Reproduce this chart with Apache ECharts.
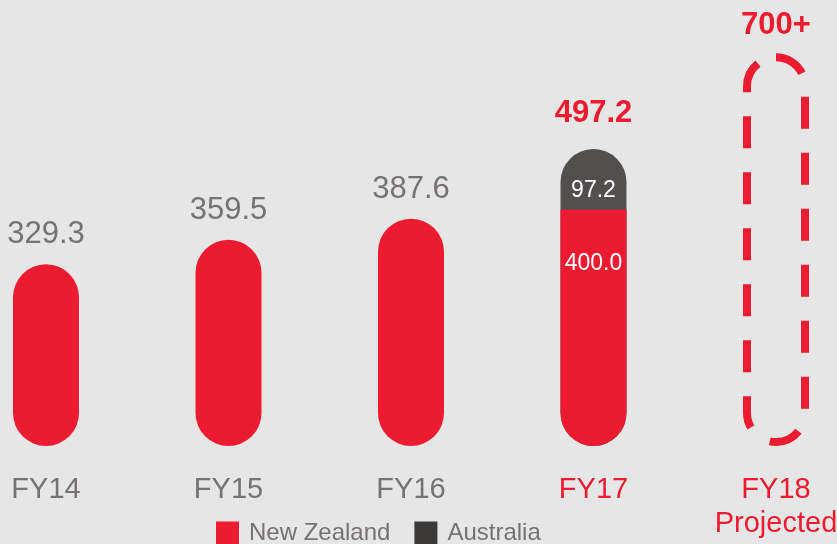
<!DOCTYPE html>
<html>
<head>
<meta charset="utf-8">
<script src="https://cdn.jsdelivr.net/npm/echarts@6/dist/echarts.min.js"></script>
<style>
  html, body { margin: 0; padding: 0; background: #e6e6e6; }
  #chart { width: 837px; height: 544px; }
</style>
</head>
<body>
<div id="chart"></div>
<script>
// data
const years = ['FY14', 'FY15', 'FY16', 'FY17', 'FY18\nProjected'];
const newZealand = [329.3, 359.5, 387.6, 400.0, null];
const australia = [null, null, null, 97.2, null];
const projected = [null, null, null, null, 700];

const RED = '#ed1b2f';
const DARK = '#544f4f';
const GREY = '#767271';
const FONT = '"Liberation Sans", Arial, sans-serif';

// FY17 is split NZ + AU, the dark bar sits behind the red one up to the total
const totals = newZealand.map((v, i) => (australia[i] == null ? null : v + australia[i]));

const nzData = newZealand.map((v, i) => {
  if (v == null) return '-';
  const split = australia[i] != null;
  return {
    value: v,
    itemStyle: { borderRadius: split ? [0, 0, 33, 33] : 33 },
    label: split
      ? { show: true, position: ['50%', 54], align: 'center', verticalAlign: 'middle',
          color: '#fff', fontSize: 23, formatter: v.toFixed(1) }
      : { show: true, position: 'top', distance: 14, color: GREY, fontSize: 31, formatter: v.toFixed(1) }
  };
});

const auData = totals.map((t, i) => t == null ? '-' : {
  value: t,
  label: { show: true, position: ['50%', 42], align: 'center', verticalAlign: 'middle',
           color: '#fff', fontSize: 23, formatter: australia[i].toFixed(1) }
});

const totalData = totals.map(t => t == null ? '-' : t);

const chart = echarts.init(document.getElementById('chart'));
chart.setOption({
  backgroundColor: '#e6e6e6',
  textStyle: { fontFamily: FONT },
  animation: false,
  grid: { left: 46, right: 61, top: 40, bottom: 98, outerBoundsMode: 'none' },
  legend: {
    left: 216, top: 521, padding: 0,
    itemWidth: 23, itemHeight: 23, itemGap: 24,
    icon: 'rect',
    textStyle: { fontSize: 24, color: GREY, fontFamily: FONT, padding: [0, 0, 0, 5] },
    data: [
      { name: 'New Zealand', itemStyle: { color: RED } },
      { name: 'Australia', itemStyle: { color: '#3a3938' } }
    ]
  },
  xAxis: {
    type: 'category',
    data: years,
    boundaryGap: false,
    axisLine: { show: false },
    axisTick: { show: false },
    axisLabel: {
      margin: 27,
      fontSize: 29,
      lineHeight: 34,
      fontFamily: FONT,
      color: (val, idx) => (idx >= 3 ? RED : GREY)
    }
  },
  yAxis: {
    type: 'log',
    min: 172,
    max: 734,
    startValue: 172,
    show: false,
    splitLine: { show: false }
  },
  series: [
    {
      name: 'Australia', type: 'bar', barWidth: 66, barGap: '-100%', clip: false,
      itemStyle: { color: DARK, borderRadius: 33 },
      data: auData
    },
    {
      name: 'New Zealand', type: 'bar', barWidth: 66, barGap: '-100%', clip: false,
      itemStyle: { color: RED },
      data: nzData
    },
    {
      name: 'Total', type: 'bar', barWidth: 66, barGap: '-100%', clip: false,
      itemStyle: { color: 'transparent' },
      label: { show: true, position: 'top', distance: 20, color: RED, fontSize: 31, fontWeight: 'bold',
               formatter: p => p.value.toFixed(1) },
      data: totalData
    },
    {
      name: 'Projected', type: 'bar', barWidth: 66, barGap: '-100%', clip: false,
      itemStyle: { color: 'transparent', borderColor: RED, borderWidth: 8, borderType: [32, 24], borderRadius: 33 },
      label: { show: true, position: 'top', distance: 12, color: RED, fontSize: 31, fontWeight: 'bold',
               formatter: p => p.value + '+' },
      data: projected.map(v => v == null ? '-' : v)
    }
  ]
});
</script>
</body>
</html>
